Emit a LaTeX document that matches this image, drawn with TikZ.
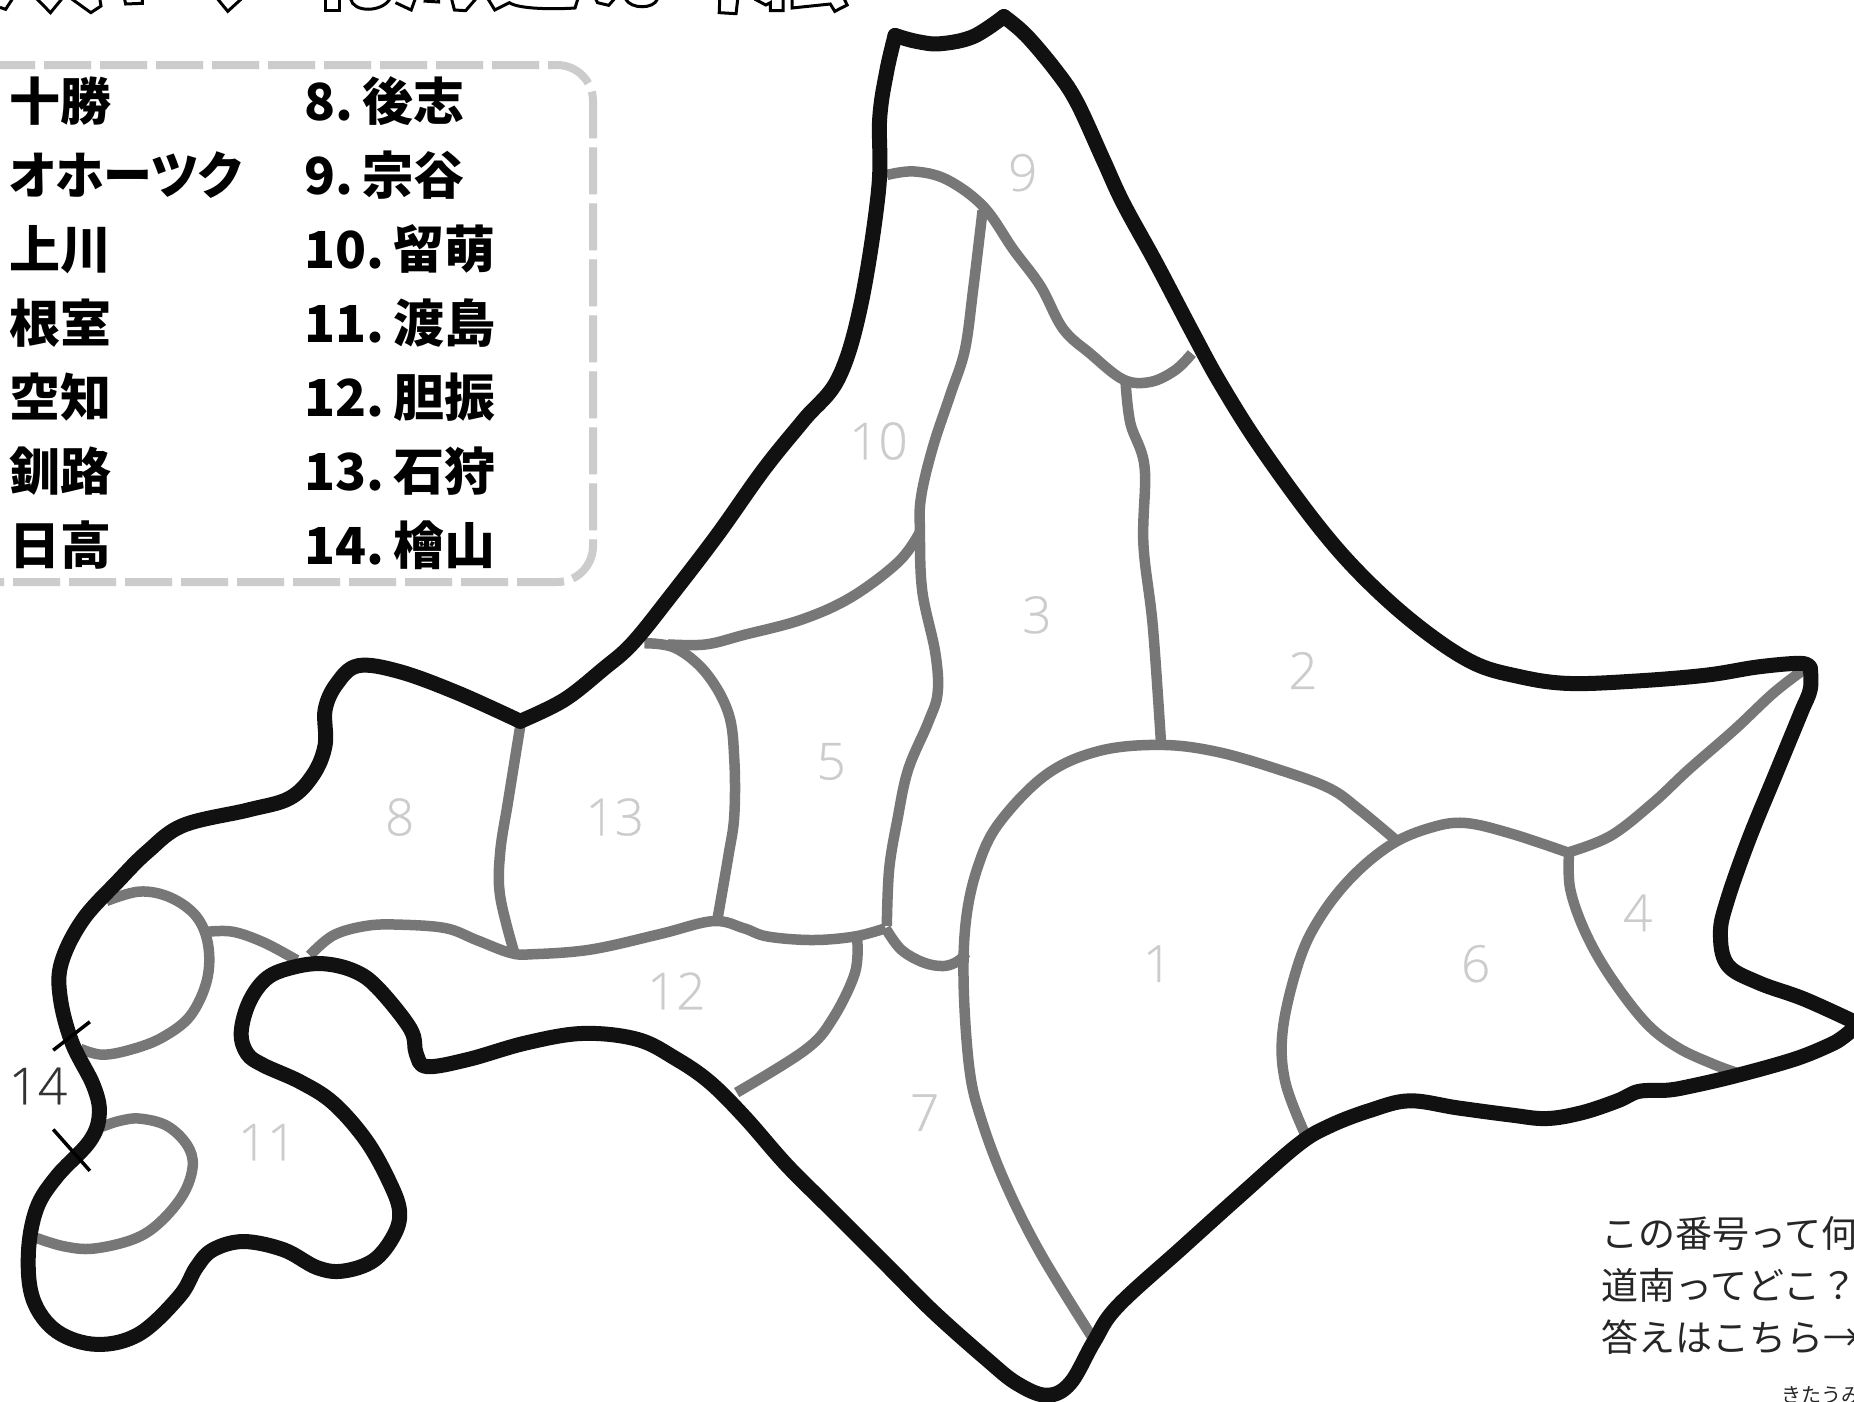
\documentclass[tikz,border=0pt]{standalone}
\usepackage{fontspec}
\setmainfont{Noto Sans CJK JP}
\newfontfamily\legendfont[RawFeature=+palt,WordSpace=0.45]{Noto Sans CJK JP Black}
\newfontfamily\numfont[FakeBold=0.5]{Open Sans Light}
\definecolor{coastc}{HTML}{111111}
\definecolor{borderc}{HTML}{777777}
\definecolor{numc}{HTML}{CCCCCC}
\tikzset{
 coast/.style={draw=coastc,line width=15pt,line cap=round,line join=round},
 bord/.style={draw=borderc,line width=10.5pt,line cap=butt,line join=round},
 num/.style={text=numc,font=\numfont\fontsize{51pt}{51pt}\selectfont,inner sep=0pt,anchor=center},
 leg/.style={text=black,font=\legendfont\fontsize{51pt}{51pt}\selectfont,inner sep=0pt,anchor=base west},
 note/.style={text=black!85,font=\fontsize{37pt}{37pt}\selectfont,inner sep=0pt,anchor=base west},
 tick/.style={draw=black,line width=3.5pt},
 title/.style={draw=black,line width=3pt,fill=white,line join=miter},
 sm/.style={smooth,tension=.6}
}
\begin{document}
\begin{tikzpicture}[x=1pt,y=-1pt]
\path[use as bounding box] (0,0) rectangle (1854,1401);
\clip (0,0) rectangle (1854,1401);
\fill[white] (0,0) rectangle (1854,1401);
% title remains
\begin{scope}[xscale=0.561,yscale=0.3333]
\draw[title] (0,22)--(10,28)--(22,-3);
\draw[title] (66,-3)--(90,38)--(110,-3);
\draw[title] (128,-3)--(162,38)--(180,18)--(178,-3);
\draw[title] (222,-3)--(224,12)--(254,10)--(254,-3);
\draw[title] (388,-3)--(406,34)--(430,-3);
\draw[title] (580,-3)--(580,30)--(606,30)--(606,-3);
\draw[title] (625,-3) .. controls (630,38) and (680,38) .. (695,-3);
\draw[title] (705,8)--(733,30)--(740,-3);
\draw[title] (755,3)--(782,6)--(782,-3);
\draw[title] (805,-3)--(810,30)--(830,32)--(848,-3);
\draw[title] (870,-3)--(882,30)--(908,8) .. controls (925,28) and (990,28) .. (1025,24)--(1030,-3);
\draw[title] (1062,-3)--(1065,8)--(1085,16)--(1095,-3);
\draw[title] (1115,-3) .. controls (1125,28) and (1165,28) .. (1172,-3);
\draw[title] (1283,-3)--(1282,38)--(1312,41)--(1315,-3);
\draw[title] (1345,-3)--(1365,15)--(1373,8)--(1373,32)--(1396,32)--(1396,-3);
\draw[title] (1412,-3)--(1412,24)--(1480,12)--(1488,34)--(1510,15)--(1505,-3);
\end{scope}
% legend box
\draw[draw=numc,line width=8pt,rounded corners=36pt,dash pattern=on 47pt off 9pt]
  (-12,65) -- (593,65) -- (593,582) -- (-12,582);
% legend rows
\foreach \nm/\yy/\ta/\tb in {a/120/十勝/8. 後志,b/194/\scalebox{0.96}[1]{オホーツク}/9. 宗谷,c/268/上川/10. 留萌,d/342/根室/11. 渡島,e/416/空知/12. 胆振,f/490/釧路/13. 石狩,g/564/日高/14. 檜山}{
 \node[leg] (l\nm) at (9,\yy) {\ta};
 \node[leg] (r\nm) at (304,\yy) {\tb};
}
\begin{scope}[scale=1.1824]
% internal borders
\draw[bord] plot[sm] coordinates {(750,148)(773,145)(801,152)(832,175)(857,211)(880,242)(899,278)(922,299)(950,321)(973,323)(994,313)(1008,299)};
\draw[bord] plot[sm] coordinates {(831,178)(823,245)(816,296)(804,333)(789,378)(779,420)(778,450)(780,500)(791,552)(793,586)(785,611)(768,651)(759,693)(752,735)(750,783)};
\draw[bord] plot[sm] coordinates {(952,324)(956,358)(968,395)(967,460)(975,530)(982,630)};
\draw[bord] plot[sm] coordinates {(778,450)(760,475)(720,505)(678,524)(629,537)(597,545)(565,545)};
\draw[bord] plot[sm] coordinates {(545,544)(571,548)(597,569)(616,603)(621,642)(621,690)(616,724)(607,776)};
\draw[bord] plot[sm] coordinates {(440,614)(430,676)(423,721)(423,758)(435,806)};
\draw[bord] plot[sm] coordinates {(262,808)(282,791)(310,783)(338,782)(377,785)(403,795)(432,806)(451,807)(500,803)(558,790)(603,779)(629,785)(649,792)(687,795)(723,792)(749,785)};
\draw[bord] plot[sm] coordinates {(725,795)(723,823)(704,862)(681,888)(623,924)};
\draw[bord] plot[sm] coordinates {(749,785)(762,803)(781,814)(798,817)(810,813)(817,806)};
\draw[bord] plot[sm] coordinates {(1180,710)(1150,685)(1125,667)(1085,652)(1030,636)(982,630)(930,635)(885,655)(845,696)(827,733)(817,778)(815,834)(820,905)(830,947)(850,1000)(880,1060)(925,1133)};
\draw[bord] plot[sm] coordinates {(1105,962)(1087,915)(1085,870)(1099,812)(1117,775)(1144,741)(1177,714)(1210,700)(1239,696)(1278,705)(1326,721)};
\draw[bord] plot[sm] coordinates {(1326,721)(1362,707)(1398,679)(1428,651)(1467,617)(1500,586)(1526,566)};
\draw[bord] plot[sm] coordinates {(1327,721)(1328,752)(1341,789)(1362,826)(1392,865)(1419,886)(1449,900)(1468,907)};
\draw[bord] plot[sm] coordinates {(90,762)(118,754)(144,759)(166,775)(176,799)(175,829)(161,859)(138,877)(113,887)(87,892)(68,887)};
\draw[bord] plot[sm] coordinates {(176,788)(197,788)(223,797)(251,812)};
\draw[bord] plot[sm] coordinates {(86,953)(101,948)(118,946)(141,952)(158,968)(163,986)(155,1010)(135,1034)(113,1048)(79,1056)(54,1054)(31,1047)};
% coast
\draw[coast] plot[sm] coordinates {(757,30)(775,35)(795,37)(823,31)(849,14)};
\draw[coast] plot[sm] coordinates {(849,14)(868,30)(894,61)(911,87)(933,135)(950,172)(978,223)(1009,282)(1032,324)(1066,378)(1115,445)(1155,490)(1200,530)(1245,560)(1284,572)(1326,578)(1383,576)(1443,571)(1487,564)(1523,561)(1531,565)};
\draw[coast] plot[sm] coordinates {(1531,565)(1531,583)(1523,603)(1502,654)(1479,710)(1461,761)(1455,789)(1461,816)(1487,831)(1526,845)(1570,865)};
\draw[coast] plot[sm] coordinates {(1572,866)(1559,877)(1547,884)(1517,896)(1467,910)(1428,919)(1410,922)(1386,923)(1368,931)(1338,941)(1308,946)(1278,943)(1233,937)(1192,931)(1159,939)(1125,952)(1098,968)(1050,1010)(1000,1055)(945,1105)(925,1135)(905,1170)(885,1180)(860,1170)(835,1150)(790,1110)(750,1070)(700,1020)(665,985)(630,945)(600,915)(571,895)(539,879)(493,874)(445,882)(396,896)(361,902)(352,891)(347,870)(319,835)(299,821)(273,815)(248,818)(226,827)(211,847)(204,873)(209,891)(223,901)(254,915)(282,933)(310,965)(330,1001)(338,1025)(333,1045)(316,1066)(290,1075)(268,1072)(240,1057)(206,1050)(180,1057)(166,1072)(152,1096)(118,1128)(82,1137)(48,1126)(28,1099)(24,1060)(31,1022)(48,995)(76,965)(84,942)(79,918)(61,882)(51,844)(52,814)(70,778)(100,745)(125,720)(155,698)(210,685)(245,675)(265,655)(275,630)(275,600)(285,578)(303,563)(338,568)(387,586)(440,610)};
\draw[coast] plot[sm] coordinates {(440,610)(477,592)(510,566)(535,544)(568,503)(607,452)(646,397)(680,355)(709,320)(728,258)(743,161)(744,100)(750,60)(757,30)};
% ticks
\coordinate (t1a) at (45,888); \coordinate (t1b) at (76,864);
\coordinate (t2a) at (45,955); \coordinate (t2b) at (76,990);
\draw[tick] (t1a)--(t1b);
\draw[tick] (t2a)--(t2b);
\end{scope}
% numbers
\foreach \nm/\xx/\yy in {1/979/815,2/1102/567,3/877/520,4/1385/772,5/703/644,6/1248/815,7/782/941,8/338/691,9/865/146,10/743/373,11/226/966,12/572/838,13/520/691}{
 \node[num] (n\nm) at (1.1824*\xx,1.1824*\yy) {\nm};
}
\node[num,text=black!80] (n14) at (38,1086) {14};
% notes
\node[note] (q1) at (1601,1247) {この番号って何};
\node[note] (q2) at (1601,1299) {道南ってどこ？};
\node[note] (q3) at (1601,1351) {答えはこちら→};
\node[inner sep=0pt,anchor=base west,font=\fontsize{20pt}{20pt}\selectfont,text=black!85] (cr) at (1781,1402) {きたうみ};
\end{tikzpicture}
\end{document}
